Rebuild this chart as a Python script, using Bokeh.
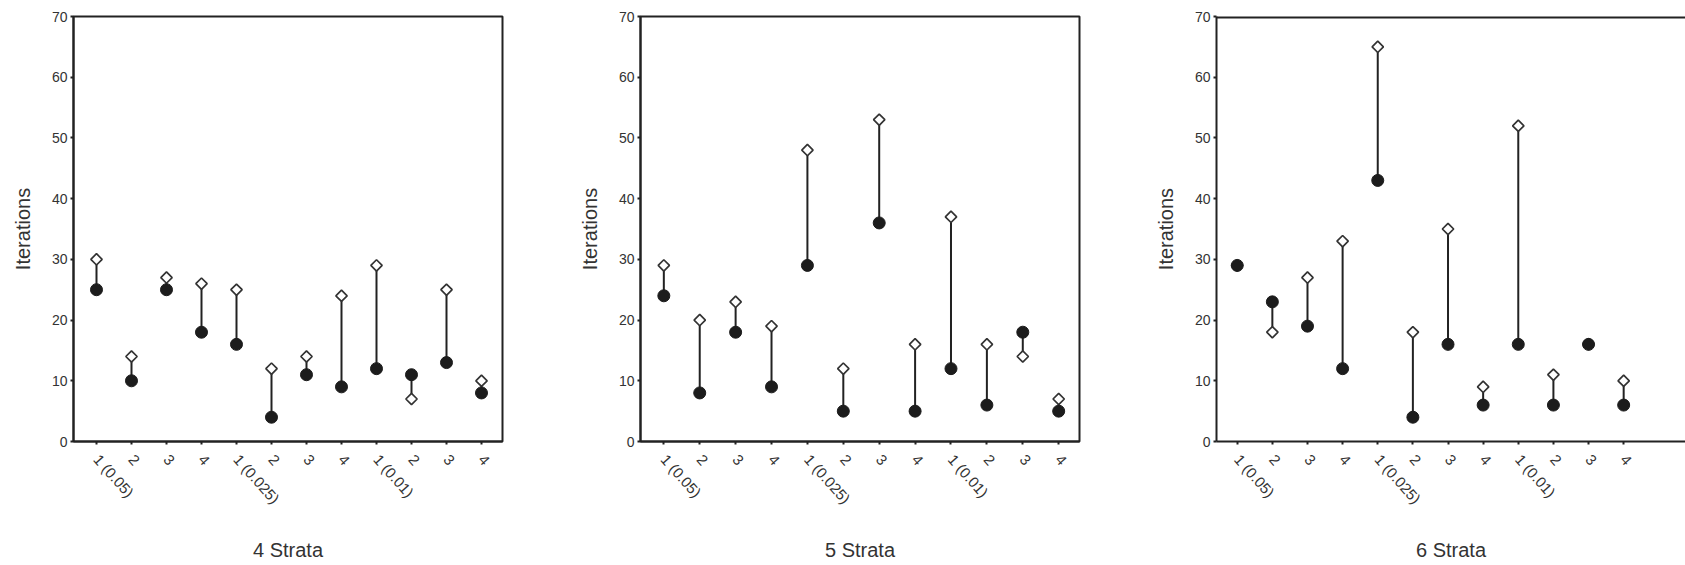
import math
from bokeh.plotting import figure
from bokeh.layouts import row
from bokeh.models import FixedTicker, Span
from bokeh.embed import file_html
from bokeh.resources import INLINE

# ---- data ----
categories = ["1 (0.05)", "2", "3", "4", "1 (0.025)", "2", "3", "4", "1 (0.01)", "2", "3", "4"]
y_ticks = [0, 10, 20, 30, 40, 50, 60, 70]

s4_open = [30, 14, 27, 26, 25, 12, 14, 24, 29, 7, 25, 10]
s4_filled = [25, 10, 25, 18, 16, 4, 11, 9, 12, 11, 13, 8]

s5_open = [29, 20, 23, 19, 48, 12, 53, 16, 37, 16, 14, 7]
s5_filled = [24, 8, 18, 9, 29, 5, 36, 5, 12, 6, 18, 5]

s6_open = [29, 18, 27, 33, 65, 18, 35, 9, 52, 11, 16, 10]
s6_filled = [29, 23, 19, 12, 43, 4, 16, 6, 16, 6, 16, 6]

titles = ["4 Strata", "5 Strata", "6 Strata"]
y_title = "Iterations"

FONT = "Liberation Sans"
DARK = "#222222"
H = 565


def make_panel(open_v, filled_v, title, width, mbl, mbr, mbt, fh, x_start, x_end, outline=True):
    xs = list(range(len(categories)))
    p = figure(width=width, height=H, x_range=(x_start, x_end), y_range=(0, 70),
               output_backend="svg", toolbar_location=None,
               min_border_left=mbl, min_border_right=mbr, min_border_top=mbt,
               min_border_bottom=H - mbt - fh)
    p.xgrid.visible = False
    p.ygrid.visible = False
    p.background_fill_color = "white"
    p.border_fill_color = "white"
    if outline:
        p.outline_line_color = DARK
        p.outline_line_width = 2
    else:
        p.outline_line_color = None
        p.add_layout(Span(location=70, dimension="width", line_color=DARK, line_width=4))

    p.segment(x0=xs, y0=filled_v, x1=xs, y1=open_v, line_color=DARK, line_width=2)
    p.scatter(xs, open_v, marker="square", angle=math.pi / 4, size=8,
              fill_color="white", line_color="#333333", line_width=1.7)
    p.scatter(xs, filled_v, marker="circle", size=12,
              fill_color="#1c1c1c", line_color="#1c1c1c")

    p.yaxis.ticker = FixedTicker(ticks=y_ticks)
    p.xaxis.ticker = FixedTicker(ticks=xs)
    p.xaxis.major_label_overrides = {i: lab for i, lab in enumerate(categories)}
    p.xaxis.major_label_orientation = -0.84

    for ax in (p.xaxis[0], p.yaxis[0]):
        ax.axis_line_color = DARK
        ax.axis_line_width = 2
        ax.major_tick_line_color = DARK
        ax.major_tick_line_width = 2
        ax.major_tick_out = 3
        ax.major_tick_in = 0
        ax.minor_tick_line_color = None
        ax.major_label_text_font = FONT
        ax.major_label_text_font_size = "14px"
        ax.major_label_text_color = "#333333"
        ax.axis_label_text_font = FONT
        ax.axis_label_text_font_size = "20px"
        ax.axis_label_text_font_style = "normal"
        ax.axis_label_text_color = "#333333"

    p.xaxis.major_label_text_font_size = "15px"
    p.yaxis.axis_label = y_title
    p.yaxis.major_label_standoff = 3
    p.yaxis.axis_label_standoff = 15
    p.xaxis.axis_label = title
    p.xaxis.major_label_standoff = 12
    p.xaxis.axis_label_standoff = 23
    return p


p1 = make_panel(s4_open, s4_filled, titles[0], 560, 73, 58, 16, 427, -0.657, 11.6)
p2 = make_panel(s5_open, s5_filled, titles[1], 560, 80, 41, 13, 430, -0.65, 11.58)
p3 = make_panel(s6_open, s6_filled, titles[2], 565, 96, 0, 12, 429, -0.59, 12.76, outline=False)

layout = row(p1, p2, p3)
open("out.html", "w").write(file_html(layout, INLINE))
